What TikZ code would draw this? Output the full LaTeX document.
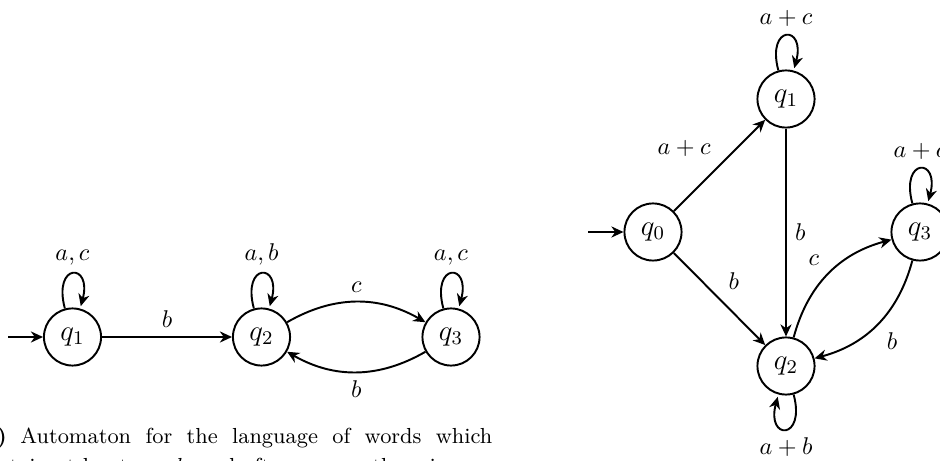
\documentclass[tikz,border=0pt]{standalone}
\usetikzlibrary{arrows.meta}
\begin{document}
\begin{tikzpicture}[x=0.4132pt,y=0.4132pt,
  st/.style={circle,draw,thick,minimum size=23.6pt,inner sep=0pt,font=\large},
  tr/.style={->,thick,>={Stealth[length=5pt,width=4.6pt,inset=1.6pt]}},
  captext/.style={inner sep=0pt,font=\small}]
\useasboundingbox (0,0) rectangle (940,461);
\clip (0,0) rectangle (940,461);

% --- automaton (a) ---
\node[st] (a1) at (72.5,124) {$q_1$};
\node[st] (a2) at (261.5,124) {$q_2$};
\node[st] (a3) at (451,124) {$q_3$};
\coordinate (ain) at (8,124);

\draw[tr] (ain) -- (a1);
\path[tr] (a1) edge[loop above] node[above] {$a, c$} (a1)
          (a2) edge[loop above] node[above] {$a, b$} (a2)
          (a3) edge[loop above] node[above] {$a, c$} (a3)
          (a1) edge node[auto] {$b$} (a2)
          (a2) edge[bend left=30] node[auto] {$c$} (a3)
          (a3) edge[bend left=30] node[auto] {$b$} (a2);

% caption of (a)
\node[captext,font=\small\bfseries,anchor=base east] (capa) at (7.5,17) {(a)};
\node[captext,anchor=base west] (cap1) at (20,17)
  {\makebox[195pt][s]{Automaton for the language of words which}};
\node[captext,anchor=base west] (cap2) at (-24,-13)
  {contain at least one $b$, and after every $c$ there is};

% --- automaton (b) ---
\node[st] (b0) at (653,229) {$q_0$};
\node[st] (b1) at (786,362) {$q_1$};
\node[st] (b2) at (786,95) {$q_2$};
\node[st] (b3) at (920,229) {$q_3$};
\coordinate (bin) at (588,229);

\draw[tr] (bin) -- (b0);
\path[tr] (b1) edge[loop above] node[above] {$a + c$} (b1)
          (b3) edge[loop above] node[above] {$a + c$} (b3)
          (b2) edge[out=-75,in=-105,loop] node[below] {$a + b$} (b2)
          (b0) edge node[auto] {$a + c$} (b1)
          (b0) edge node[auto] {$b$} (b2)
          (b1) edge node[auto] {$b$} (b2)
          (b2) edge[bend left=30] node[auto] {$c$} (b3)
          (b3) edge[bend left=30] node[auto] {$b$} (b2);
\end{tikzpicture}
\end{document}
